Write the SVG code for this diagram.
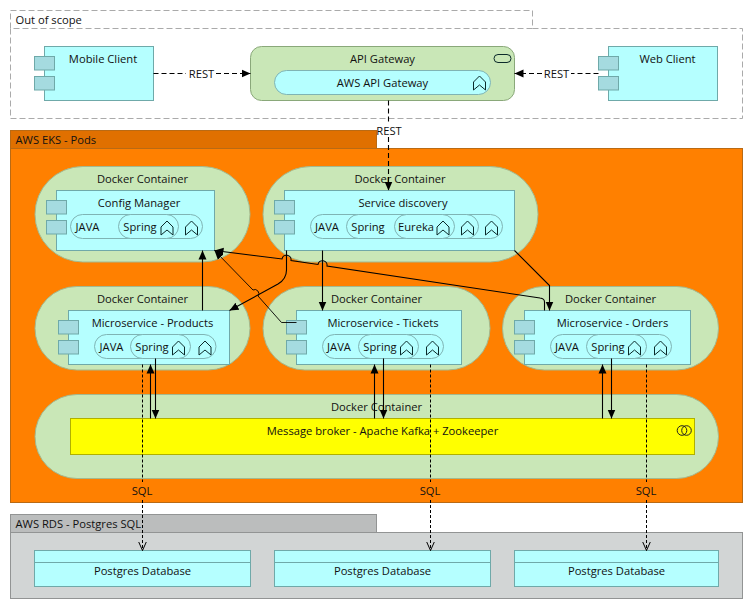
<svg xmlns="http://www.w3.org/2000/svg" width="753" height="609" viewBox="0 0 753 609">
<style>
text{font-family:"Open Sans","Noto Sans","Liberation Sans",sans-serif;font-size:11.2px;fill:#111;text-anchor:middle}
.gl{text-anchor:start}
.dock{fill:#c9e7b7;stroke:#a3b98f;stroke-width:1}
.comp{fill:#b5ffff;stroke:#6fa9a9;stroke-width:1}
.port{fill:#a5dbe0;stroke:#6fa9a9;stroke-width:1}
.pill{fill:#b5ffff;stroke:#7fb4b4;stroke-width:1}
.ln{fill:none;stroke:#000;stroke-width:1.1}
.dash{stroke-dasharray:5 3}
.dot{stroke-dasharray:3 2;stroke-width:1}
.ar{marker-end:url(#fa)}
.op{marker-end:url(#oa)}
.ic{fill:none;stroke:#0b2a2a;stroke-width:1}
</style>
<defs>
<marker id="fa" markerUnits="userSpaceOnUse" markerWidth="10" markerHeight="10" refX="9" refY="4" orient="auto" viewBox="0 0 10 8"><path d="M0,0L9,4L0,8Z" fill="#000"/></marker>
<marker id="oa" markerUnits="userSpaceOnUse" markerWidth="10" markerHeight="10" refX="9" refY="4" orient="auto" viewBox="0 0 10 8"><path d="M0,0L9,4L0,8" fill="none" stroke="#000" stroke-width="1"/></marker>
<path id="chev" class="ic" d="M-6,7V-1L0,-7L6,-1V7L0,2Z"/>
<g id="ports"><rect class="port" x="0" y="0" width="20" height="13.5"/><rect class="port" x="0" y="20" width="20" height="13.5"/></g>
</defs>

<g id="out-of-scope">
<path d="M10.5,28.5V10.5H532.5V28.5H742.5V118.5H10.5V28.5H532.5" fill="#fff" stroke="#aaa" stroke-dasharray="6 3"/>
<text class="gl" x="15.5" y="24">Out of scope</text>
</g>

<g id="aws-eks">
<rect x="10.5" y="130.5" width="366" height="18" fill="#e07000" stroke="#b96a14"/>
<rect x="10.5" y="148.5" width="732" height="354" fill="#ff8000" stroke="#b96a14"/>
<text class="gl" x="15.5" y="144">AWS EKS - Pods</text>
</g>

<g id="aws-rds">
<rect x="10.5" y="514.5" width="366" height="18" fill="#bbbdbd" stroke="#929494"/>
<rect x="10.5" y="532.5" width="732" height="66" fill="#d2d5d5" stroke="#929494"/>
<text class="gl" x="15.5" y="528">AWS RDS - Postgres SQL</text>
</g>

<g id="mobile-client">
<rect class="comp" x="44.5" y="46.5" width="109" height="54"/>
<use href="#ports" x="34.5" y="56.5"/>
<text x="103" y="63">Mobile Client</text>
</g>

<g id="api-gateway">
<rect x="250.5" y="46.5" width="264" height="54" rx="11" fill="#c9e7b7" stroke="#8aa87a"/>
<rect x="494" y="54.5" width="17" height="8" rx="4" fill="none" stroke="#0b2a2a"/>
<text x="382.5" y="63">API Gateway</text>
<g id="aws-api-gateway">
<rect class="pill" x="274.5" y="70.5" width="216" height="24" rx="12"/>
<text x="382.5" y="87">AWS API Gateway</text>
<use href="#chev" x="479.5" y="83"/>
</g>
</g>

<g id="web-client">
<rect class="comp" x="608.5" y="46.5" width="109" height="54"/>
<use href="#ports" x="598.5" y="56.5"/>
<text x="667.5" y="63">Web Client</text>
</g>

<g id="docker-config">
<rect class="dock" x="35" y="166.5" width="215" height="95.5" rx="47.7"/>
<text x="142.5" y="183">Docker Container</text>
<g id="config-manager">
<rect class="comp" x="56.5" y="190.5" width="158" height="60"/>
<use href="#ports" x="46.5" y="200.5"/>
<text x="139" y="207">Config Manager</text>
<rect class="pill" x="70.5" y="214.5" width="132" height="24" rx="12"/>
<text x="87.5" y="231">JAVA</text>
<rect class="pill" x="118.5" y="214.5" width="60" height="24" rx="12"/>
<text x="140" y="231">Spring</text>
<use href="#chev" x="167" y="228"/>
<use href="#chev" x="191.5" y="228"/>
</g>
</g>

<g id="docker-discovery">
<rect class="dock" x="263" y="166.5" width="275" height="95.5" rx="47.7"/>
<text x="400" y="183">Docker Container</text>
<g id="service-discovery">
<rect class="comp" x="284.5" y="190.5" width="230" height="60"/>
<use href="#ports" x="274.5" y="200.5"/>
<text x="403" y="207">Service discovery</text>
<rect class="pill" x="310.5" y="214.5" width="192" height="24" rx="12"/>
<text x="327" y="231">JAVA</text>
<rect class="pill" x="346.5" y="214.5" width="132" height="24" rx="12"/>
<text x="368" y="231">Spring</text>
<rect class="pill" x="394.5" y="214.5" width="60" height="24" rx="12"/>
<text x="416" y="231">Eureka</text>
<use href="#chev" x="443" y="228"/>
<use href="#chev" x="467.5" y="228"/>
<use href="#chev" x="491.5" y="228"/>
</g>
</g>

<g id="docker-products">
<rect class="dock" x="35" y="286.5" width="215" height="83.5" rx="41.7"/>
<text x="142.5" y="303">Docker Container</text>
<g id="microservice-products">
<rect class="comp" x="68.5" y="310.5" width="161" height="54"/>
<use href="#ports" x="58.5" y="320.5"/>
<text x="152.5" y="327">Microservice - Products</text>
<rect class="pill" x="94.5" y="334.5" width="121.5" height="24" rx="12"/>
<text x="111.5" y="351">JAVA</text>
<rect class="pill" x="130.5" y="334.5" width="60" height="24" rx="12"/>
<text x="152" y="351">Spring</text>
<use href="#chev" x="178.5" y="348"/>
<use href="#chev" x="205" y="348"/>
</g>
</g>

<g id="docker-tickets">
<rect class="dock" x="263" y="286.5" width="227" height="83.5" rx="41.7"/>
<text x="376.5" y="303">Docker Container</text>
<g id="microservice-tickets">
<rect class="comp" x="296.5" y="310.5" width="165" height="54"/>
<use href="#ports" x="286.5" y="320.5"/>
<text x="383" y="327">Microservice - Tickets</text>
<rect class="pill" x="322.5" y="334.5" width="121" height="24" rx="12"/>
<text x="339" y="351">JAVA</text>
<rect class="pill" x="358.5" y="334.5" width="60" height="24" rx="12"/>
<text x="380" y="351">Spring</text>
<use href="#chev" x="406.5" y="348"/>
<use href="#chev" x="432.5" y="348"/>
</g>
</g>

<g id="docker-orders">
<rect class="dock" x="502.5" y="286.5" width="216" height="83.5" rx="41.7"/>
<text x="610.5" y="303">Docker Container</text>
<g id="microservice-orders">
<rect class="comp" x="524.5" y="310.5" width="166" height="54"/>
<use href="#ports" x="514.5" y="320.5"/>
<text x="612.5" y="327">Microservice - Orders</text>
<rect class="pill" x="550.5" y="334.5" width="121" height="24" rx="12"/>
<text x="567" y="351">JAVA</text>
<rect class="pill" x="586.5" y="334.5" width="60" height="24" rx="12"/>
<text x="608" y="351">Spring</text>
<use href="#chev" x="634.5" y="348"/>
<use href="#chev" x="660.5" y="348"/>
</g>
</g>

<g id="docker-broker">
<rect class="dock" x="35" y="394.5" width="683.5" height="84" rx="42"/>
<text x="376.5" y="411">Docker Container</text>
<g id="message-broker">
<rect x="70.5" y="418.5" width="624" height="36" fill="#ffff00" stroke="#b0b000"/>
<text x="382.5" y="435">Message broker - Apache Kafka + Zookeeper</text>
<circle cx="682" cy="430.5" r="4.8" fill="none" stroke="#222"/>
<circle cx="686.5" cy="430.5" r="4.8" fill="none" stroke="#222"/>
</g>
</g>

<g id="db-1">
<rect class="comp" x="34.5" y="550.5" width="216" height="36"/>
<path d="M34.5,562.5H250.5" stroke="#6fa9a9"/>
<text x="142.5" y="575">Postgres Database</text>
</g>
<g id="db-2">
<rect class="comp" x="274.5" y="550.5" width="216" height="36"/>
<path d="M274.5,562.5H490.5" stroke="#6fa9a9"/>
<text x="382.5" y="575">Postgres Database</text>
</g>
<g id="db-3">
<rect class="comp" x="514.5" y="550.5" width="204" height="36"/>
<path d="M514.5,562.5H718.5" stroke="#6fa9a9"/>
<text x="616.5" y="575">Postgres Database</text>
</g>

<g id="connectors">
<path class="ln dash" d="M153.5,73.5H186"/>
<path class="ln dash ar" d="M216,73.5H250.5"/>
<text x="201.5" y="77.5">REST</text>
<path class="ln dash" d="M598.5,73.5H571"/>
<path class="ln dash ar" d="M542,73.5H514.5"/>
<text x="556.5" y="77.5">REST</text>
<path class="ln dash" d="M388.5,100.5V124"/>
<path class="ln dash ar" d="M388.5,137V190.5"/>
<text x="389" y="135">REST</text>

<path class="ln ar" d="M202.5,310.5V250.5"/>
<path class="ln ar" d="M286.5,250.5V270Q286.5,279 278,284L229.5,310.5"/>
<path class="ln ar" d="M296.5,322.5H281.5L258,296A4,4 0 0 0 253,290L214.500,250.500" style="stroke-width:.9"/>
<path class="ln ar" d="M544.5,310.500V302Q544.500,298.500 540,298L327,266A4.500,4.500 0 0 0 318,264.500L291,260.500A4.500,4.500 0 0 0 282,259L214.500,250.500"/>
<path class="ln ar" d="M322.5,250.5V310.5"/>
<path class="ln ar" d="M514.5,250.5L549.5,285.5V310.5"/>

<path class="ln ar" d="M150.5,418.5V364.5"/>
<path class="ln ar" d="M155.5,358.5V418.5"/>
<path class="ln ar" d="M374.5,418.5V364.5"/>
<path class="ln ar" d="M383.5,358.5V418.5"/>
<path class="ln ar" d="M602.5,418.5V364.5"/>
<path class="ln ar" d="M611.5,358.5V418.5"/>

<path class="ln dot" d="M142.5,364.5V482"/>
<path class="ln dot op" d="M142.5,500V550.5"/>
<text x="142" y="495">SQL</text>
<path class="ln dot" d="M430.5,364.5V482"/>
<path class="ln dot op" d="M430.5,500V550.5"/>
<text x="430" y="495">SQL</text>
<path class="ln dot" d="M646.5,364.5V482"/>
<path class="ln dot op" d="M646.5,500V550.5"/>
<text x="646" y="495">SQL</text>
</g>
</svg>
